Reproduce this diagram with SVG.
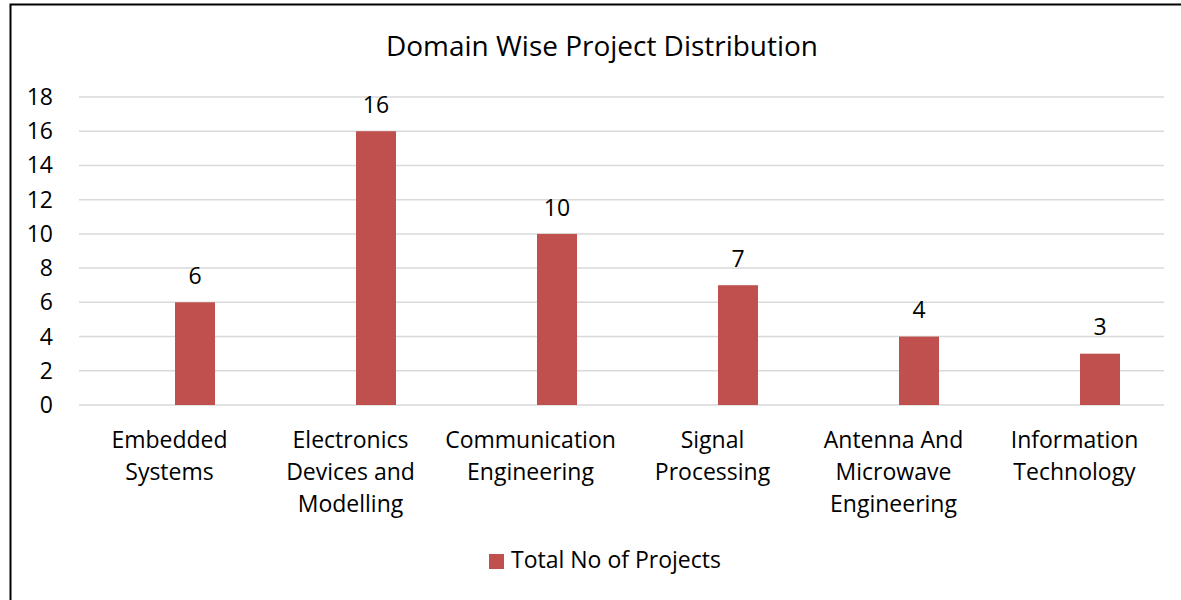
<svg xmlns="http://www.w3.org/2000/svg" width="1181" height="600" viewBox="0 0 1181 600">
<style>
text{font-family:"Open Sans","Liberation Sans",Arial,sans-serif;fill:#000}
.t{font-size:23px}
.ax{font-size:23px;text-anchor:end}
.cat{font-size:23px;text-anchor:middle}
.val{font-size:23px;text-anchor:middle}
.grid{stroke:#d9d9d9;stroke-width:1.5}
.bar{fill:#c0504d}
</style>
<rect x="0" y="0" width="1181" height="600" fill="#fff"/>
<path d="M10.5 610 V4.5 H1190" fill="none" stroke="#000" stroke-width="2"/>
<text x="602" y="56" style="font-size:27px" text-anchor="middle" textLength="432" lengthAdjust="spacingAndGlyphs">Domain Wise Project Distribution</text>
<g id="grid">
<line class="grid" x1="79" y1="405" x2="1164" y2="405"/>
<line class="grid" x1="79" y1="370.8" x2="1164" y2="370.8"/>
<line class="grid" x1="79" y1="336.6" x2="1164" y2="336.6"/>
<line class="grid" x1="79" y1="302.3" x2="1164" y2="302.3"/>
<line class="grid" x1="79" y1="268.1" x2="1164" y2="268.1"/>
<line class="grid" x1="79" y1="233.9" x2="1164" y2="233.9"/>
<line class="grid" x1="79" y1="199.7" x2="1164" y2="199.7"/>
<line class="grid" x1="79" y1="165.4" x2="1164" y2="165.4"/>
<line class="grid" x1="79" y1="131.2" x2="1164" y2="131.2"/>
<line class="grid" x1="79" y1="97" x2="1164" y2="97"/>
</g>
<g id="yaxis">
<text class="ax" x="53" y="413">0</text>
<text class="ax" x="53" y="378.8">2</text>
<text class="ax" x="53" y="344.6">4</text>
<text class="ax" x="53" y="310.3">6</text>
<text class="ax" x="53" y="276.1">8</text>
<text class="ax" x="53" y="241.9">10</text>
<text class="ax" x="53" y="207.7">12</text>
<text class="ax" x="53" y="173.4">14</text>
<text class="ax" x="53" y="139.2">16</text>
<text class="ax" x="53" y="105">18</text>
</g>
<g id="bar-embedded">
<rect class="bar" x="175" y="302.3" width="40" height="102.7"/>
<text class="val" x="195" y="284">6</text>
<text class="cat" x="169.5" y="448">Embedded</text>
<text class="cat" x="169.5" y="480">Systems</text>
</g>
<g id="bar-electronics">
<rect class="bar" x="356" y="131.2" width="40" height="273.8"/>
<text class="val" x="376" y="113">16</text>
<text class="cat" x="350.5" y="448">Electronics</text>
<text class="cat" x="350.5" y="480">Devices and</text>
<text class="cat" x="350.5" y="512">Modelling</text>
</g>
<g id="bar-communication">
<rect class="bar" x="537" y="233.9" width="40" height="171.1"/>
<text class="val" x="557" y="215.5">10</text>
<text class="cat" x="530.5" y="448">Communication</text>
<text class="cat" x="530.5" y="480">Engineering</text>
</g>
<g id="bar-signal">
<rect class="bar" x="718" y="285.2" width="40" height="119.8"/>
<text class="val" x="738" y="267">7</text>
<text class="cat" x="712.5" y="448">Signal</text>
<text class="cat" x="712.5" y="480">Processing</text>
</g>
<g id="bar-antenna">
<rect class="bar" x="899" y="336.6" width="40" height="68.4"/>
<text class="val" x="919" y="318">4</text>
<text class="cat" x="893.5" y="448">Antenna And</text>
<text class="cat" x="893.5" y="480">Microwave</text>
<text class="cat" x="893.5" y="512">Engineering</text>
</g>
<g id="bar-it">
<rect class="bar" x="1080" y="353.7" width="40" height="51.3"/>
<text class="val" x="1100" y="335">3</text>
<text class="cat" x="1074.5" y="448">Information</text>
<text class="cat" x="1074.5" y="480">Technology</text>
</g>
<g id="legend">
<rect class="bar" x="489" y="554" width="15" height="15"/>
<text class="t" x="511" y="568">Total No of Projects</text>
</g>
</svg>
